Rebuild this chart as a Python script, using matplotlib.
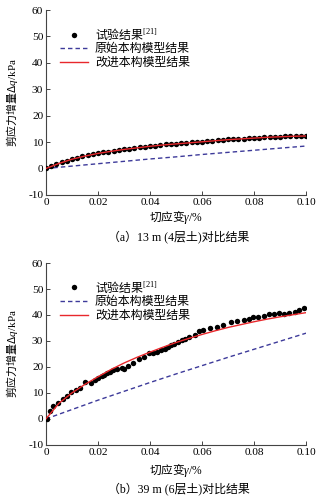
import numpy as np
import matplotlib
matplotlib.use("Agg")
import matplotlib.pyplot as plt
from matplotlib.lines import Line2D

plt.rcParams['font.family'] = ['Liberation Serif', 'Noto Sans CJK SC', 'DejaVu Sans']
plt.rcParams['mathtext.fontset'] = 'custom'
plt.rcParams['mathtext.rm'] = 'Liberation Serif'
plt.rcParams['mathtext.it'] = 'Liberation Serif:italic'
plt.rcParams['mathtext.bf'] = 'Liberation Serif'
plt.rcParams['axes.unicode_minus'] = False

CJK = 'Noto Sans CJK SC'

# ---------------- data: panel (a) 13 m ----------------
a_exp_x = [0.000, 0.002, 0.004, 0.006, 0.008, 0.010, 0.012, 0.014, 0.016, 0.018,
           0.020, 0.022, 0.024, 0.026, 0.028, 0.030, 0.032, 0.034, 0.036, 0.038,
           0.040, 0.042, 0.044, 0.046, 0.048, 0.050, 0.052, 0.054, 0.056, 0.058,
           0.060, 0.062, 0.064, 0.066, 0.068, 0.070, 0.072, 0.074, 0.076, 0.078,
           0.080, 0.082, 0.084, 0.086, 0.088, 0.090, 0.092, 0.094, 0.096, 0.098, 0.100]
a_exp_y = [0.0, 0.8, 1.6, 2.3, 3.0, 3.6, 4.1, 4.6, 5.0, 5.4,
           5.8, 6.1, 6.4, 6.8, 7.0, 7.3, 7.5, 7.8, 8.0, 8.3,
           8.5, 8.7, 8.9, 9.1, 9.2, 9.4, 9.6, 9.7, 9.9, 10.1,
           10.2, 10.4, 10.5, 10.7, 10.9, 11.0, 11.1, 11.2, 11.3, 11.5,
           11.6, 11.7, 11.8, 11.9, 12.0, 12.1, 12.2, 12.3, 12.3, 12.4, 12.4]
a_orig_x = [0.0, 0.01, 0.02, 0.03, 0.04, 0.05, 0.06, 0.07, 0.08, 0.09, 0.10]
a_orig_y = [0.0, 0.9, 1.8, 2.7, 3.6, 4.4, 5.3, 6.1, 6.9, 7.7, 8.5]
a_impr_x = [0.0, 0.005, 0.01, 0.015, 0.02, 0.025, 0.03, 0.035, 0.04, 0.045, 0.05,
            0.055, 0.06, 0.065, 0.07, 0.075, 0.08, 0.085, 0.09, 0.095, 0.10]
a_impr_y = [0.0, 1.9, 3.5, 4.7, 5.7, 6.5, 7.2, 7.8, 8.4, 8.9, 9.3,
            9.7, 10.1, 10.5, 10.9, 11.2, 11.5, 11.8, 12.0, 12.2, 12.3]

# ---------------- data: panel (b) 39 m ----------------
b_exp_x = [0.0003, 0.0015, 0.0028, 0.0045, 0.0064, 0.0081, 0.0096, 0.0115, 0.0131, 0.0151,
           0.0172, 0.0188, 0.0201, 0.0214, 0.0223, 0.0233, 0.0246, 0.0259, 0.0274, 0.0291,
           0.0300, 0.0317, 0.0336, 0.0359, 0.0378, 0.0396, 0.0410, 0.0426, 0.0442, 0.0458,
           0.0470, 0.0480, 0.0494, 0.0506, 0.0522, 0.0535, 0.0551, 0.0573, 0.0590, 0.0605,
           0.0630, 0.0656, 0.0682, 0.0710, 0.0736, 0.0762, 0.0781, 0.0797, 0.0817, 0.0838,
           0.0859, 0.0877, 0.0897, 0.0915, 0.0933, 0.0956, 0.0974, 0.0992]
b_exp_y = [0.0, 3.2, 4.8, 6.2, 7.7, 9.0, 10.2, 11.2, 12.0, 14.1,
           13.8, 15.1, 15.7, 16.4, 17.0, 17.7, 18.2, 18.7, 19.4, 19.6,
           19.4, 20.4, 21.5, 23.0, 23.9, 25.4, 25.5, 25.8, 26.5, 27.1,
           27.7, 28.4, 29.0, 29.7, 30.3, 30.8, 31.4, 32.3, 33.8, 34.2,
           35.0, 35.5, 36.0, 37.4, 37.8, 38.1, 38.3, 39.4, 39.4, 39.6,
           40.3, 40.4, 40.6, 40.3, 40.9, 41.3, 41.9, 42.7]
b_orig_x = [0.0, 0.01, 0.02, 0.03, 0.04, 0.05, 0.06, 0.07, 0.08, 0.09, 0.10]
b_orig_y = [0.0, 3.6, 7.2, 10.6, 14.0, 17.3, 20.5, 23.7, 26.8, 29.9, 33.0]
b_impr_x = [0.0, 0.005, 0.01, 0.015, 0.02, 0.025, 0.03, 0.035, 0.04, 0.045, 0.05,
            0.055, 0.06, 0.065, 0.07, 0.075, 0.08, 0.085, 0.09, 0.095, 0.10]
b_impr_y = [0.0, 6.0, 10.0, 13.3, 16.2, 19.0, 21.5, 23.7, 25.7, 27.6, 29.4,
            31.0, 32.5, 33.9, 35.2, 36.3, 37.4, 38.4, 39.3, 40.1, 40.9]

xticks = [0, 0.02, 0.04, 0.06, 0.08, 0.10]
xticklabels = ['0', '0.02', '0.04', '0.06', '0.08', '0.10']
yticks = [-10, 0, 10, 20, 30, 40, 50, 60]

leg_labels = ['试验结果$^{\\mathbf{[21]}}$', '原始本构模型结果', '改进本构模型结果']
ylabel = '剪应力增量Δ$\\mathit{q}\\mathbf{/kPa}$'
xlabel = '切应变$\\mathit{γ}\\mathbf{/\\%}$'
captions = ['（a）13 m (4层土)对比结果', '（b）39 m (6层土)对比结果']

RED = '#e8282c'
BLUE = '#3d3a9a'
AXC = '#444444'

fig = plt.figure(figsize=(3.28, 5.01), dpi=100)
ax_a = fig.add_axes([0.140, 0.611, 0.793, 0.369])
ax_b = fig.add_axes([0.140, 0.112, 0.793, 0.363])

panels = [
    (ax_a, a_exp_x, a_exp_y, a_orig_x, a_orig_y, a_impr_x, a_impr_y, 0.567, 0.527),
    (ax_b, b_exp_x, b_exp_y, b_orig_x, b_orig_y, b_impr_x, b_impr_y, 0.062, 0.024),
]

for i, (ax, ex, ey, ox, oy, ix, iy, xl_y, cap_y) in enumerate(panels):
    ax.plot(ox, oy, linestyle=(0, (3.2, 2.2)), color=BLUE, lw=1.0, zorder=2)
    ax.plot(ex, ey, 'o', color='black', ms=3.9, mec='none', zorder=3)
    ax.plot(ix, iy, '-', color=RED, lw=1.0, zorder=4)
    ax.set_xlim(0, 0.10)
    ax.set_ylim(-10, 60)
    ax.set_xticks(xticks)
    ax.set_xticklabels(xticklabels)
    ax.set_yticks(yticks)
    for s in ['top', 'right']:
        ax.spines[s].set_visible(False)
    for s in ['left', 'bottom']:
        ax.spines[s].set_color(AXC)
        ax.spines[s].set_linewidth(0.8)
    ax.tick_params(direction='in', length=3, width=0.7, color=AXC,
                   labelsize=8.2, pad=2)
    ax.set_ylabel(ylabel, fontsize=7.9, family=CJK)
    ax.yaxis.set_label_coords(-0.100, 0.5)
    fig.text(0.537, xl_y, xlabel, ha='center', va='center', fontsize=8.4, family=CJK)
    fig.text(0.545, cap_y, captions[i], ha='center', va='center', fontsize=8.6)

    handles = [
        Line2D([], [], marker='o', ls='none', color='black', ms=3.9, mec='none'),
        Line2D([], [], linestyle=(0, (3.2, 2.2)), color=BLUE, lw=1.0),
        Line2D([], [], color=RED, lw=1.0),
    ]
    ax.legend(handles, leg_labels, loc='upper left', bbox_to_anchor=(0.035, 0.935),
              frameon=False, prop={'family': CJK, 'size': 8.6},
              handlelength=2.4, handletextpad=0.55,
              labelspacing=0.05, borderaxespad=0)

fig.savefig('out.png', dpi=100)
